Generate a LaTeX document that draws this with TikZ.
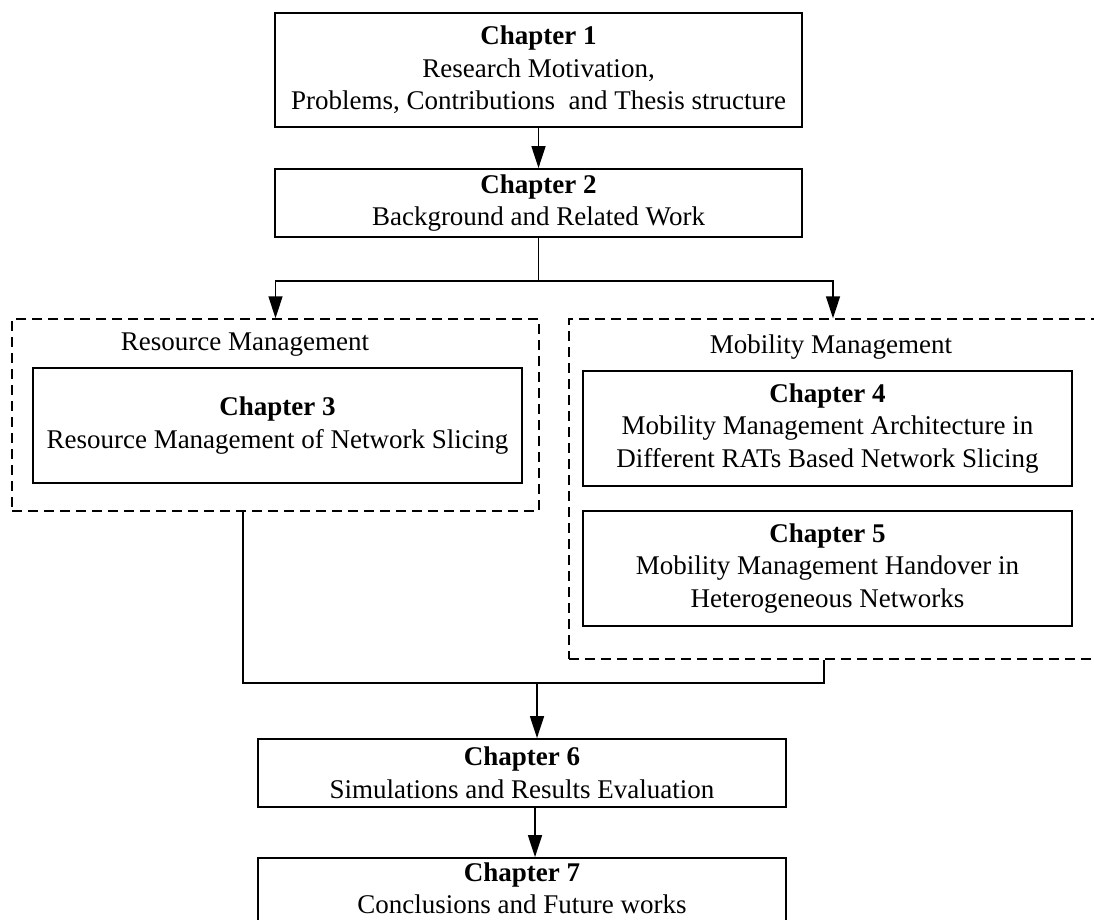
\documentclass[tikz,border=0pt]{standalone}
\usepackage{fontspec}
\setmainfont{Liberation Serif}
\usetikzlibrary{arrows.meta}

\begin{document}
\begin{tikzpicture}[x=1pt,y=-1pt,
  every node/.style={font=\fontsize{27}{32.5}\selectfont},
  chapbox/.style={draw, line width=1.8pt, rectangle, inner sep=0pt, align=center},
  groupbox/.style={draw, line width=1.5pt, dash pattern=on 10pt off 6pt, rectangle, inner sep=0pt},
  conn/.style={line width=1.5pt},
  arr/.style={conn, -{Triangle[length=22pt, width=14pt]}}
]
\useasboundingbox (0,0) rectangle (1094,920);
\fill[white] (0,0) rectangle (1094,920);

% dashed group frames
\node[groupbox, minimum width=527pt, minimum height=192pt] (rgroup) at (275.5,415) {};
\node[groupbox, minimum width=528pt, minimum height=340pt] (mgroup) at (833,489) {};
\node (rlabel) at (245,345) {Resource Management};
\node (mlabel) at (831,347) {Mobility Management};

% chapter boxes
\node[chapbox, minimum width=527pt, minimum height=114pt] (ch1) at (538.5,70)
  {\textbf{Chapter 1}\\Research Motivation,\\Problems, Contributions\ \ and Thesis structure};
\node[chapbox, minimum width=527pt, minimum height=68pt] (ch2) at (538.5,203)
  {\textbf{Chapter 2}\\Background and Related Work};
\node[chapbox, minimum width=489pt, minimum height=115pt] (ch3) at (277.5,425.5)
  {\textbf{Chapter 3}\\Resource Management of Network Slicing};
\node[chapbox, minimum width=489pt, minimum height=115pt] (ch4) at (827.5,428.5)
  {\textbf{Chapter 4}\\Mobility Management Architecture in\\Different RATs Based Network Slicing};
\node[chapbox, minimum width=489pt, minimum height=115pt] (ch5) at (827.5,568.5)
  {\textbf{Chapter 5}\\Mobility Management Handover in\\Heterogeneous Networks};
\node[chapbox, minimum width=528pt, minimum height=68pt] (ch6) at (522,773)
  {\textbf{Chapter 6}\\Simulations and Results Evaluation};
\node[chapbox, minimum width=528pt, minimum height=68pt, text depth=8pt] (ch7) at (522,892)
  {\textbf{Chapter 7}\\Conclusions and Future works};

% junction points
\coordinate (split) at (538.5,281);
\coordinate (merge) at (537,683);

% connectors
\draw[arr] (ch1.south) -- (ch2.north);
\draw[conn] (ch2.south) -- (split);
\draw[arr] (split) -| (rgroup.north);
\draw[arr] (split) -| (mgroup.north);
\draw[conn] ([xshift=-32.5pt]rgroup.south) |- (merge) -| ([xshift=-9pt]mgroup.south);
\draw[arr] (merge) -- (merge |- ch6.north);
\draw[arr] ([xshift=13pt]ch6.south) -- ([xshift=13pt]ch7.north);
\end{tikzpicture}
\end{document}
